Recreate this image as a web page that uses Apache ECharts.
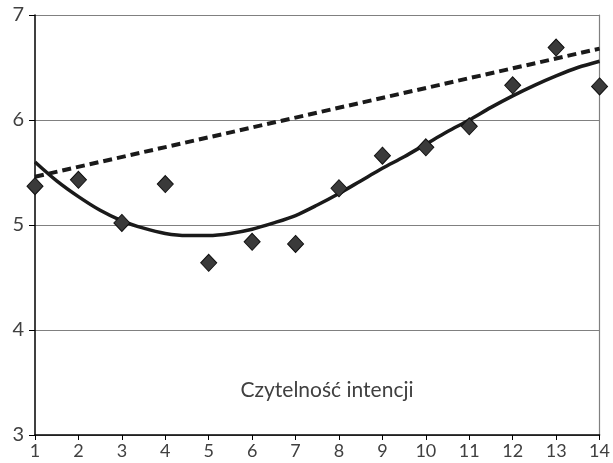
<!DOCTYPE html>
<html><head><meta charset="utf-8">
<script src="https://cdn.jsdelivr.net/npm/echarts@6/dist/echarts.min.js"></script>
<style>html,body{margin:0;padding:0;background:#fff}#c{width:613px;height:463px}</style>
</head><body><div id="c"></div>
<script>
const xCats = [1,2,3,4,5,6,7,8,9,10,11,12,13,14];
const scores = [5.37,5.43,5.02,5.39,4.64,4.84,4.82,5.35,5.66,5.74,5.94,6.33,6.69,6.32];
const linearX = [1,14];
const linearY = [5.46,6.68];
const polyX = [1,1.5,2,2.5,3,3.5,4,4.5,5,5.5,6,6.5,7,7.5,8,8.5,9,9.5,10,10.5,11,11.5,12,12.5,13,13.5,14];
const polyY = [5.60,5.42,5.27,5.14,5.04,4.97,4.92,4.90,4.90,4.92,4.96,5.02,5.09,5.19,5.30,5.42,5.54,5.65,5.77,5.89,6.00,6.12,6.23,6.33,6.42,6.50,6.56];
const yTicks = [3,4,5,6,7];
const title = 'Czytelność intencji';

const chart = echarts.init(document.getElementById('c'));
const font = 'Lato, "Open Sans", sans-serif';
chart.setOption({
  animation:false,
  grid:{left:35,right:12,top:15,bottom:28},
  title:{text:title,left:322,top:375,textAlign:'center',
    textStyle:{fontFamily:font,fontSize:21,fontWeight:'normal',color:'#404040'}},
  xAxis:{type:'value',min:xCats[0],max:xCats[xCats.length-1],interval:1,
    axisLine:{lineStyle:{color:'#000',width:1.5}},
    axisTick:{show:true,length:5,lineStyle:{color:'#000'}},
    axisLabel:{fontFamily:font,fontSize:18,color:'#404040',margin:7},
    splitLine:{show:false}},
  yAxis:[{type:'value',min:yTicks[0],max:yTicks[yTicks.length-1],interval:1,
    axisLine:{show:true,lineStyle:{color:'#000',width:1.5}},
    axisTick:{show:true,length:6,lineStyle:{color:'#000'}},
    axisLabel:{fontFamily:font,fontSize:20,color:'#404040',margin:11},
    splitLine:{show:true,lineStyle:{color:'#808080',width:1.2}}},
    {type:'value',position:'right',min:3,max:7,interval:1,
    axisLine:{show:true,lineStyle:{color:'#808080',width:1.2}},
    axisTick:{show:false},axisLabel:{show:false},splitLine:{show:false}}],
  series:[
    {type:'line',data:linearX.map((x,i)=>[x,linearY[i]]),symbol:'none',
      lineStyle:{color:'#1a1a1a',width:4,type:[9,5]},z:2},
    {type:'line',data:polyX.map((x,i)=>[x,polyY[i]]),symbol:'none',smooth:0.3,
      lineStyle:{color:'#1a1a1a',width:3.5},z:3},
    {type:'scatter',data:xCats.map((x,i)=>[x,scores[i]]),symbol:'diamond',symbolSize:[16,17],
      itemStyle:{color:'#3a3a3a',borderColor:'#111',borderWidth:1,opacity:1},z:4}
  ]
});
</script></body></html>
